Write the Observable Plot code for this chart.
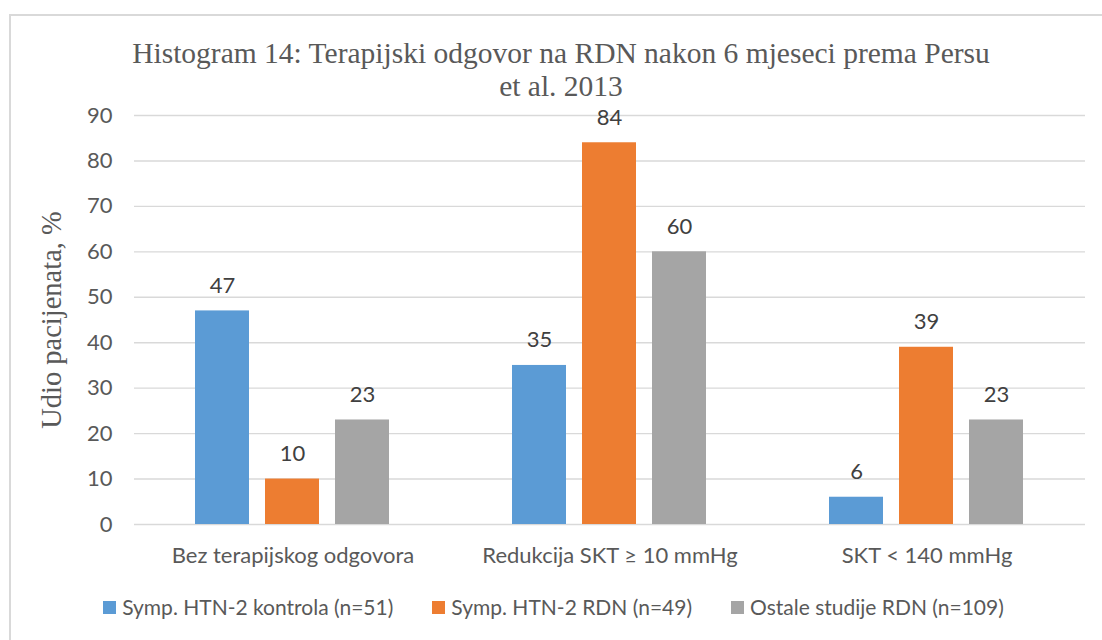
<!DOCTYPE html>
<html>
<head>
<meta charset="utf-8">
<script src="https://cdn.jsdelivr.net/npm/d3@7"></script>
<script src="https://cdn.jsdelivr.net/npm/@observablehq/plot@0.6"></script>
<style>
  html, body { margin: 0; padding: 0; background: #fff; }
  #wrap { position: relative; width: 1102px; height: 640px; overflow: hidden; background: #fff; }
  #frame { position: absolute; left: 9px; top: 14px; width: 1200px; height: 700px; border: 2px solid #d9d9d9; box-sizing: border-box; }
  #title { position: absolute; left: 0; top: 37px; width: 1122px; text-align: center;
           font-family: "Liberation Serif", "Times New Roman", serif; font-size: 29.5px; line-height: 33px; color: #595959; }
  #ylabel { position: absolute; left: 52px; top: 320px; transform-origin: 0 0; transform: rotate(-90deg) translate(-50%, -50%);
            white-space: nowrap; font-family: "Liberation Serif", "Times New Roman", serif; font-size: 28.5px; line-height: 32px; color: #595959; }
  #chart { position: absolute; left: 0; top: 0; }
  #legend { position: absolute; left: 0; top: 594px; width: 1107px; display: flex; justify-content: center; gap: 39px;
            font-family: Lato, "Liberation Sans", sans-serif; font-size: 21px; color: #595959; line-height: 26px; }
  .item { display: flex; align-items: center; white-space: nowrap; }
  .sw { width: 13px; height: 13px; margin-right: 6px; display: inline-block; }
</style>
</head>
<body>
<div id="wrap">
  <div id="frame"></div>
  <div id="chart"></div>
  <div id="title">Histogram 14: Terapijski odgovor na RDN nakon 6 mjeseci prema Persu<br>et al. 2013</div>
  <div id="ylabel">Udio pacijenata, %</div>
  <div id="legend"></div>
</div>
<script>
const categories = ["Bez terapijskog odgovora", "Redukcija SKT ≥ 10 mmHg", "SKT < 140 mmHg"];
const seriesNames = ["Symp. HTN-2 kontrola (n=51)", "Symp. HTN-2 RDN (n=49)", "Ostale studije RDN (n=109)"];
const kontrolaValues = [47, 35, 6];
const rdnValues = [10, 84, 39];
const ostaleValues = [23, 60, 23];
const yTicks = [0, 10, 20, 30, 40, 50, 60, 70, 80, 90];
const colors = ["#5B9BD5", "#ED7D31", "#A5A5A5"];

const seriesValues = [kontrolaValues, rdnValues, ostaleValues];
const data = [];
categories.forEach((c, i) => {
  seriesNames.forEach((s, j) => {
    data.push({category: c, series: s, value: seriesValues[j][i]});
  });
});

const chart = Plot.plot({
  width: 1102,
  height: 640,
  marginTop: 115,
  marginBottom: 116,
  marginLeft: 133,
  marginRight: 17,
  style: {fontFamily: "Lato, 'Liberation Sans', sans-serif", fontSize: "22px", color: "#595959", background: "transparent"},
  fx: {domain: categories, padding: 0, axis: "bottom", tickSize: 0, tickPadding: 23, label: null},
  x: {domain: seriesNames, paddingInner: 0.225, paddingOuter: 0.845, axis: null},
  y: {domain: [0, 90], ticks: yTicks, tickSize: 0, tickPadding: 22, label: null, tickFormat: d => String(d)},
  color: {domain: seriesNames, range: colors},
  marks: [
    Plot.gridY(yTicks, {stroke: "#d9d9d9", strokeOpacity: 1, strokeWidth: 1.4}),
    Plot.barY(data, {fx: "category", x: "series", y: "value", fill: "series"}),
    Plot.text(data, {fx: "category", x: "series", y: "value", text: d => String(d.value), dy: -25,
                     fill: "#404040", fontSize: 22, textAnchor: "middle"})
  ]
});
document.getElementById("chart").appendChild(chart);

const legend = document.getElementById("legend");
seriesNames.forEach((s, j) => {
  const item = document.createElement("div");
  item.className = "item";
  const sw = document.createElement("span");
  sw.className = "sw";
  sw.style.background = colors[j];
  const t = document.createElement("span");
  t.textContent = s;
  item.appendChild(sw);
  item.appendChild(t);
  legend.appendChild(item);
});
</script>
</body>
</html>
